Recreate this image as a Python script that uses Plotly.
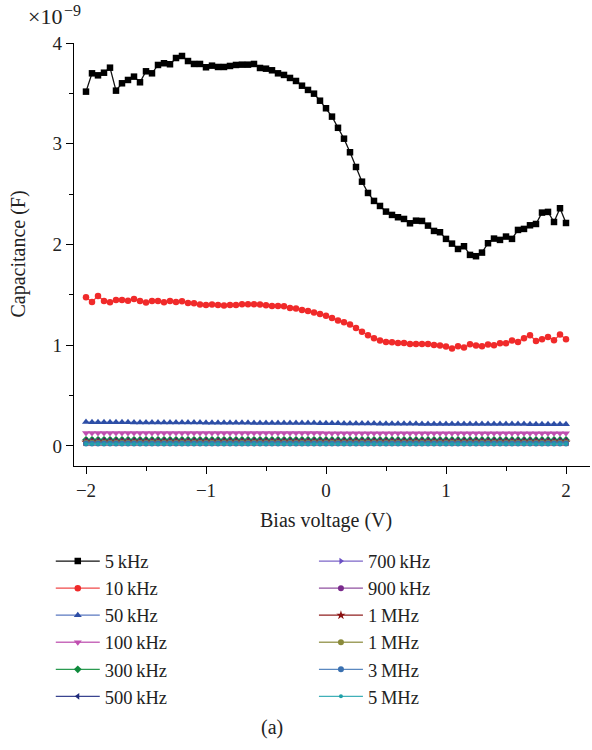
import plotly.graph_objects as go

FONT = "Liberation Serif"

bias_v = [-2.00, -1.95, -1.90, -1.85, -1.80, -1.75, -1.70, -1.65, -1.60, -1.55,
          -1.50, -1.45, -1.40, -1.35, -1.30, -1.25, -1.20, -1.15, -1.10, -1.05,
          -1.00, -0.95, -0.90, -0.85, -0.80, -0.75, -0.70, -0.65, -0.60, -0.55,
          -0.50, -0.45, -0.40, -0.35, -0.30, -0.25, -0.20, -0.15, -0.10, -0.05,
          0.00, 0.05, 0.10, 0.15, 0.20, 0.25, 0.30, 0.35, 0.40, 0.45,
          0.50, 0.55, 0.60, 0.65, 0.70, 0.75, 0.80, 0.85, 0.90, 0.95,
          1.00, 1.05, 1.10, 1.15, 1.20, 1.25, 1.30, 1.35, 1.40, 1.45,
          1.50, 1.55, 1.60, 1.65, 1.70, 1.75, 1.80, 1.85, 1.90, 1.95, 2.00]

# capacitance in units of 1e-9 F
c_5k = [3.517, 3.699, 3.679, 3.705, 3.755, 3.527, 3.600, 3.633, 3.666, 3.610,
        3.719, 3.699, 3.782, 3.799, 3.789, 3.851, 3.871, 3.821, 3.792, 3.792,
        3.759, 3.775, 3.762, 3.762, 3.772, 3.782, 3.785, 3.785, 3.792, 3.752,
        3.745, 3.729, 3.699, 3.683, 3.653, 3.623, 3.576, 3.534, 3.497, 3.427,
        3.352, 3.269, 3.158, 3.050, 2.915, 2.769, 2.623, 2.511, 2.432, 2.382,
        2.326, 2.293, 2.270, 2.253, 2.210, 2.236, 2.233, 2.187, 2.134, 2.121,
        2.055, 2.008, 1.955, 1.982, 1.896, 1.883, 1.919, 2.012, 2.058, 2.045,
        2.078, 2.055, 2.144, 2.154, 2.190, 2.203, 2.316, 2.323, 2.223, 2.359, 2.213]

c_10k = [1.476, 1.429, 1.489, 1.439, 1.426, 1.449, 1.449, 1.442, 1.459, 1.439,
         1.423, 1.439, 1.439, 1.426, 1.439, 1.429, 1.436, 1.419, 1.416, 1.403,
         1.399, 1.403, 1.399, 1.393, 1.399, 1.399, 1.406, 1.406, 1.406, 1.403,
         1.396, 1.389, 1.389, 1.386, 1.370, 1.363, 1.350, 1.340, 1.323, 1.310,
         1.293, 1.270, 1.244, 1.227, 1.204, 1.171, 1.132, 1.098, 1.069, 1.045,
         1.032, 1.029, 1.022, 1.022, 1.012, 1.012, 1.012, 1.012, 1.002, 0.996,
         0.986, 0.966, 0.989, 0.976, 1.009, 0.996, 0.989, 1.006, 0.999, 1.019,
         1.019, 1.045, 1.032, 1.069, 1.098, 1.042, 1.059, 1.082, 1.049, 1.105, 1.059]

c_50k = [0.236, 0.235, 0.235, 0.235, 0.234, 0.234, 0.234, 0.234, 0.233, 0.233,
         0.233, 0.233, 0.232, 0.232, 0.232, 0.232, 0.231, 0.231, 0.231, 0.231,
         0.230, 0.230, 0.230, 0.230, 0.229, 0.229, 0.229, 0.229, 0.228, 0.228,
         0.228, 0.228, 0.227, 0.227, 0.227, 0.227, 0.226, 0.226, 0.226, 0.225,
         0.225, 0.224, 0.224, 0.223, 0.223, 0.222, 0.222, 0.221, 0.221, 0.220,
         0.220, 0.220, 0.219, 0.219, 0.219, 0.219, 0.218, 0.218, 0.218, 0.218,
         0.218, 0.217, 0.217, 0.217, 0.217, 0.217, 0.217, 0.216, 0.216, 0.216,
         0.216, 0.216, 0.216, 0.216, 0.215, 0.215, 0.215, 0.215, 0.215, 0.215, 0.215]

c_100k = [0.128, 0.128, 0.128, 0.128, 0.128, 0.128, 0.128, 0.128, 0.128, 0.128,
          0.128, 0.128, 0.128, 0.128, 0.128, 0.128, 0.128, 0.128, 0.128, 0.128,
          0.127, 0.127, 0.127, 0.127, 0.127, 0.127, 0.127, 0.127, 0.127, 0.127,
          0.127, 0.127, 0.127, 0.127, 0.127, 0.127, 0.127, 0.127, 0.127, 0.127,
          0.126, 0.126, 0.126, 0.126, 0.126, 0.126, 0.126, 0.126, 0.126, 0.126,
          0.126, 0.126, 0.126, 0.126, 0.126, 0.126, 0.126, 0.126, 0.126, 0.126,
          0.125, 0.125, 0.125, 0.125, 0.125, 0.125, 0.125, 0.125, 0.125, 0.125,
          0.125, 0.125, 0.125, 0.125, 0.125, 0.125, 0.125, 0.125, 0.125, 0.125, 0.125]

c_300k = [0.060, 0.060, 0.060, 0.060, 0.060, 0.060, 0.060, 0.060, 0.060, 0.060,
          0.060, 0.060, 0.060, 0.060, 0.060, 0.060, 0.060, 0.060, 0.060, 0.060,
          0.060, 0.060, 0.060, 0.060, 0.060, 0.060, 0.060, 0.060, 0.060, 0.060,
          0.060, 0.060, 0.060, 0.060, 0.060, 0.060, 0.060, 0.060, 0.060, 0.060,
          0.059, 0.059, 0.059, 0.059, 0.059, 0.059, 0.059, 0.059, 0.059, 0.059,
          0.059, 0.059, 0.059, 0.059, 0.059, 0.059, 0.059, 0.059, 0.059, 0.059,
          0.059, 0.059, 0.059, 0.059, 0.059, 0.059, 0.059, 0.059, 0.059, 0.059,
          0.059, 0.059, 0.059, 0.059, 0.059, 0.059, 0.059, 0.059, 0.059, 0.059, 0.059]

c_500k = [0.050, 0.050, 0.050, 0.050, 0.050, 0.050, 0.050, 0.050, 0.050, 0.050,
          0.050, 0.050, 0.050, 0.050, 0.050, 0.050, 0.050, 0.050, 0.050, 0.050,
          0.050, 0.050, 0.050, 0.050, 0.050, 0.050, 0.050, 0.050, 0.050, 0.050,
          0.050, 0.050, 0.050, 0.050, 0.050, 0.050, 0.050, 0.050, 0.050, 0.050,
          0.050, 0.050, 0.050, 0.050, 0.050, 0.050, 0.050, 0.050, 0.050, 0.050,
          0.050, 0.050, 0.050, 0.050, 0.050, 0.050, 0.050, 0.050, 0.050, 0.050,
          0.050, 0.050, 0.050, 0.050, 0.050, 0.050, 0.050, 0.050, 0.050, 0.050,
          0.050, 0.050, 0.050, 0.050, 0.050, 0.050, 0.050, 0.050, 0.050, 0.050, 0.050]

c_700k = [0.044, 0.044, 0.044, 0.044, 0.044, 0.044, 0.044, 0.044, 0.044, 0.044,
          0.044, 0.044, 0.044, 0.044, 0.044, 0.044, 0.044, 0.044, 0.044, 0.044,
          0.044, 0.044, 0.044, 0.044, 0.044, 0.044, 0.044, 0.044, 0.044, 0.044,
          0.044, 0.044, 0.044, 0.044, 0.044, 0.044, 0.044, 0.044, 0.044, 0.044,
          0.044, 0.044, 0.044, 0.044, 0.044, 0.044, 0.044, 0.044, 0.044, 0.044,
          0.044, 0.044, 0.044, 0.044, 0.044, 0.044, 0.044, 0.044, 0.044, 0.044,
          0.044, 0.044, 0.044, 0.044, 0.044, 0.044, 0.044, 0.044, 0.044, 0.044,
          0.044, 0.044, 0.044, 0.044, 0.044, 0.044, 0.044, 0.044, 0.044, 0.044, 0.044]

c_900k = [0.039, 0.039, 0.039, 0.039, 0.039, 0.039, 0.039, 0.039, 0.039, 0.039,
          0.039, 0.039, 0.039, 0.039, 0.039, 0.039, 0.039, 0.039, 0.039, 0.039,
          0.039, 0.039, 0.039, 0.039, 0.039, 0.039, 0.039, 0.039, 0.039, 0.039,
          0.039, 0.039, 0.039, 0.039, 0.039, 0.039, 0.039, 0.039, 0.039, 0.039,
          0.039, 0.039, 0.039, 0.039, 0.039, 0.039, 0.039, 0.039, 0.039, 0.039,
          0.039, 0.039, 0.039, 0.039, 0.039, 0.039, 0.039, 0.039, 0.039, 0.039,
          0.039, 0.039, 0.039, 0.039, 0.039, 0.039, 0.039, 0.039, 0.039, 0.039,
          0.039, 0.039, 0.039, 0.039, 0.039, 0.039, 0.039, 0.039, 0.039, 0.039, 0.039]

c_1m_a = [0.035, 0.035, 0.035, 0.035, 0.035, 0.035, 0.035, 0.035, 0.035, 0.035,
          0.035, 0.035, 0.035, 0.035, 0.035, 0.035, 0.035, 0.035, 0.035, 0.035,
          0.035, 0.035, 0.035, 0.035, 0.035, 0.035, 0.035, 0.035, 0.035, 0.035,
          0.035, 0.035, 0.035, 0.035, 0.035, 0.035, 0.035, 0.035, 0.035, 0.035,
          0.035, 0.035, 0.035, 0.035, 0.035, 0.035, 0.035, 0.035, 0.035, 0.035,
          0.035, 0.035, 0.035, 0.035, 0.035, 0.035, 0.035, 0.035, 0.035, 0.035,
          0.035, 0.035, 0.035, 0.035, 0.035, 0.035, 0.035, 0.035, 0.035, 0.035,
          0.035, 0.035, 0.035, 0.035, 0.035, 0.035, 0.035, 0.035, 0.035, 0.035, 0.035]

c_1m_b = [0.032, 0.032, 0.032, 0.032, 0.032, 0.032, 0.032, 0.032, 0.032, 0.032,
          0.032, 0.032, 0.032, 0.032, 0.032, 0.032, 0.032, 0.032, 0.032, 0.032,
          0.032, 0.032, 0.032, 0.032, 0.032, 0.032, 0.032, 0.032, 0.032, 0.032,
          0.032, 0.032, 0.032, 0.032, 0.032, 0.032, 0.032, 0.032, 0.032, 0.032,
          0.032, 0.032, 0.032, 0.032, 0.032, 0.032, 0.032, 0.032, 0.032, 0.032,
          0.032, 0.032, 0.032, 0.032, 0.032, 0.032, 0.032, 0.032, 0.032, 0.032,
          0.032, 0.032, 0.032, 0.032, 0.032, 0.032, 0.032, 0.032, 0.032, 0.032,
          0.032, 0.032, 0.032, 0.032, 0.032, 0.032, 0.032, 0.032, 0.032, 0.032, 0.032]

c_3m = [0.024, 0.024, 0.024, 0.024, 0.024, 0.024, 0.024, 0.024, 0.024, 0.024,
        0.024, 0.024, 0.024, 0.024, 0.024, 0.024, 0.024, 0.024, 0.024, 0.024,
        0.024, 0.024, 0.024, 0.024, 0.024, 0.024, 0.024, 0.024, 0.024, 0.024,
        0.024, 0.024, 0.024, 0.024, 0.024, 0.024, 0.024, 0.024, 0.024, 0.024,
        0.024, 0.024, 0.024, 0.024, 0.024, 0.024, 0.024, 0.024, 0.024, 0.024,
        0.024, 0.024, 0.024, 0.024, 0.024, 0.024, 0.024, 0.024, 0.024, 0.024,
        0.024, 0.024, 0.024, 0.024, 0.024, 0.024, 0.024, 0.024, 0.024, 0.024,
        0.024, 0.024, 0.024, 0.024, 0.024, 0.024, 0.024, 0.024, 0.024, 0.024, 0.024]

c_5m = [0.018, 0.018, 0.018, 0.018, 0.018, 0.018, 0.018, 0.018, 0.018, 0.018,
        0.018, 0.018, 0.018, 0.018, 0.018, 0.018, 0.018, 0.018, 0.018, 0.018,
        0.018, 0.018, 0.018, 0.018, 0.018, 0.018, 0.018, 0.018, 0.018, 0.018,
        0.018, 0.018, 0.018, 0.018, 0.018, 0.018, 0.018, 0.018, 0.018, 0.018,
        0.018, 0.018, 0.018, 0.018, 0.018, 0.018, 0.018, 0.018, 0.018, 0.018,
        0.018, 0.018, 0.018, 0.018, 0.018, 0.018, 0.018, 0.018, 0.018, 0.018,
        0.018, 0.018, 0.018, 0.018, 0.018, 0.018, 0.018, 0.018, 0.018, 0.018,
        0.018, 0.018, 0.018, 0.018, 0.018, 0.018, 0.018, 0.018, 0.018, 0.018, 0.018]

series_names = ["5\u2009kHz", "10\u2009kHz", "50\u2009kHz", "100\u2009kHz", "300\u2009kHz",
                "500\u2009kHz", "700\u2009kHz", "900\u2009kHz", "1\u2009MHz", "1\u2009MHz",
                "3\u2009MHz", "5\u2009MHz"]
series_values = [c_5k, c_10k, c_50k, c_100k, c_300k, c_500k, c_700k, c_900k,
                 c_1m_a, c_1m_b, c_3m, c_5m]

x_ticks = [-2, -1, 0, 1, 2]
x_tick_labels = ["\u22122", "\u22121", "0", "1", "2"]
y_ticks = [0, 1, 2, 3, 4]
y_tick_labels = ["0", "1", "2", "3", "4"]

styles = [
    dict(mc="#000000", lc="#111111", sym="square", size=6.5),
    dict(mc="#f02a2a", lc="#f04848", sym="circle", size=6.5),
    dict(mc="#2d4ea6", lc="#5a78c0", sym="triangle-up", size=7),
    dict(mc="#c04fb0", lc="#c86cbc", sym="triangle-down", size=7),
    dict(mc="#0f8a3c", lc="#2a9a50", sym="diamond", size=6),
    dict(mc="#1f2a7a", lc="#3a4490", sym="triangle-left", size=6),
    dict(mc="#6a4fc4", lc="#7c66c8", sym="triangle-right", size=6),
    dict(mc="#7a2a8c", lc="#9050a0", sym="circle", size=6),
    dict(mc="#8a1010", lc="#902020", sym="star", size=7),
    dict(mc="#8a8a3a", lc="#a0a060", sym="circle", size=6),
    dict(mc="#3a70b0", lc="#5a88c0", sym="circle", size=6),
    dict(mc="#20a0a8", lc="#40b0b8", sym="circle", size=4),
]

fig = go.Figure()
for i, (name, vals, st) in enumerate(zip(series_names, series_values, styles)):
    fig.add_trace(go.Scatter(
        x=bias_v, y=vals, name=name, mode="lines+markers",
        line=dict(color=st["lc"], width=1.3),
        marker=dict(symbol=st["sym"], size=st["size"], color=st["mc"], line=dict(width=0)),
        legend="legend" if i < 6 else "legend2",
    ))

axis_common = dict(
    showline=True, linecolor="black", linewidth=1.2, mirror=False,
    ticks="outside", ticklen=7, tickwidth=1.2, tickcolor="black",
    showgrid=False, zeroline=False,
    tickfont=dict(family=FONT, size=19, color="#222"),
)

fig.update_xaxes(range=[-2.1, 2.2], tickvals=x_ticks, ticktext=x_tick_labels,
                 minor=dict(ticks="outside", ticklen=4, tickwidth=1.2, tickcolor="black",
                            tick0=0, dtick=0.5, showgrid=False),
                 **axis_common)
fig.update_yaxes(range=[-0.2, 4], tickvals=y_ticks, ticktext=y_tick_labels,
                 minor=dict(ticks="outside", ticklen=4, tickwidth=1.2, tickcolor="black",
                            tick0=0, dtick=0.5, showgrid=False),
                 **axis_common)

legend_common = dict(
    font=dict(family=FONT, size=18.5, color="#222"),
    bgcolor="rgba(0,0,0,0)", borderwidth=0,
    orientation="v", yanchor="top", xanchor="left",
    itemwidth=44, tracegroupgap=0, itemclick=False,
)

TXT = dict(family=FONT, size=20, color="#222")

fig.update_layout(
    width=592, height=750,
    margin=dict(l=74, r=2, t=43, b=284),
    paper_bgcolor="white", plot_bgcolor="white",
    font=dict(family=FONT, size=19, color="#222"),
    legend=dict(x=-0.045, y=-0.181, **legend_common),
    legend2=dict(x=0.465, y=-0.181, **legend_common),
    annotations=[
        dict(text="\u00d710", xref="paper", yref="paper",
             x=(26 - 74) / 516, y=(466 - 17) / 423, xanchor="left", yanchor="middle",
             showarrow=False, font=dict(family=FONT, size=22, color="#222")),
        dict(text="\u22129", xref="paper", yref="paper",
             x=(62 - 74) / 516, y=(466 - 10) / 423, xanchor="left", yanchor="middle",
             showarrow=False, font=dict(family=FONT, size=16, color="#222")),
        dict(text="Capacitance (F)", xref="paper", yref="paper", textangle=-90,
             x=(18 - 74) / 516, y=0.5, xanchor="center", yanchor="middle",
             showarrow=False, font=TXT),
        dict(text="Bias voltage (V)", xref="x", yref="paper",
             x=0.0, y=-0.13, xanchor="center", yanchor="middle",
             showarrow=False, font=TXT),
        dict(text="(a)", xref="paper", yref="paper",
             x=(272 - 74) / 516, y=(466 - 727) / 423, xanchor="center", yanchor="middle",
             showarrow=False, font=TXT),
    ],
)

fig.write_html("out.html")
